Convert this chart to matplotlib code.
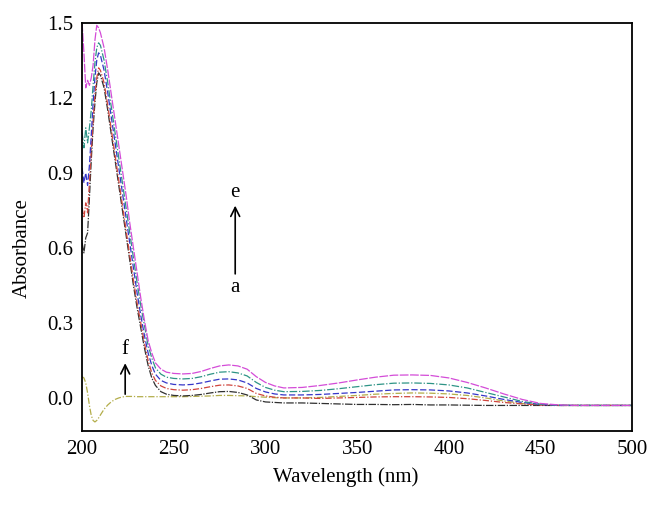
import numpy as np
import matplotlib
matplotlib.use("Agg")
import matplotlib.pyplot as plt

plt.rcParams['font.family'] = ['Liberation Serif', 'DejaVu Serif']

# wavelength grid (nm)
wl = [200, 201, 202, 203, 204, 205, 206, 207, 208, 209, 210, 212, 214, 216, 218,
      220, 222, 224, 226, 228, 230, 232, 234, 236, 238, 240, 243, 246, 250, 255,
      260, 265, 270, 275, 280, 285, 290, 295, 300, 305, 310, 320, 330, 340, 350,
      360, 370, 380, 390, 400, 410, 420, 430, 440, 450, 460, 470, 480, 490, 500]

# absorbance, curves a..e and f
absA = [0.62, 0.58, 0.64, 0.66, 0.80, 0.95, 1.08, 1.18, 1.26, 1.30, 1.29, 1.24, 1.15, 1.05, 0.95,
        0.85, 0.75, 0.65, 0.55, 0.45, 0.36, 0.28, 0.20, 0.13, 0.08, 0.05, 0.025, 0.015, 0.010, 0.008,
        0.010, 0.014, 0.020, 0.025, 0.026, 0.022, 0.012, -0.008, -0.016, -0.018, -0.020, -0.020, -0.022, -0.024, -0.026,
        -0.026, -0.027, -0.026, -0.028, -0.028, -0.029, -0.030, -0.030, -0.030, -0.030, -0.030, -0.030, -0.030, -0.030, -0.030]
absB = [0.76, 0.72, 0.78, 0.74, 0.86, 0.99, 1.11, 1.21, 1.28, 1.32, 1.31, 1.26, 1.17, 1.07, 0.97,
        0.87, 0.77, 0.67, 0.57, 0.47, 0.38, 0.30, 0.22, 0.15, 0.10, 0.07, 0.048, 0.038, 0.033, 0.031,
        0.033, 0.038, 0.045, 0.051, 0.052, 0.048, 0.038, 0.018, 0.008, 0.003, 0.000, 0.000, -0.002, 0.000, 0.002,
        0.004, 0.005, 0.005, 0.004, 0.002, -0.003, -0.010, -0.018, -0.024, -0.028, -0.030, -0.030, -0.030, -0.030, -0.030]
absC = [0.92, 0.86, 0.90, 0.85, 0.93, 1.05, 1.18, 1.28, 1.35, 1.38, 1.37, 1.31, 1.22, 1.12, 1.02,
        0.92, 0.82, 0.72, 0.62, 0.52, 0.42, 0.33, 0.25, 0.18, 0.13, 0.095, 0.070, 0.060, 0.054, 0.052,
        0.054, 0.060, 0.068, 0.075, 0.076, 0.072, 0.060, 0.038, 0.024, 0.016, 0.012, 0.012, 0.014, 0.018, 0.022,
        0.027, 0.032, 0.033, 0.032, 0.028, 0.020, 0.008, -0.006, -0.018, -0.026, -0.030, -0.030, -0.030, -0.030, -0.030]
absD = [1.06, 1.00, 1.08, 1.02, 1.08, 1.15, 1.25, 1.34, 1.40, 1.42, 1.41, 1.35, 1.26, 1.16, 1.06,
        0.96, 0.86, 0.76, 0.66, 0.56, 0.46, 0.37, 0.29, 0.21, 0.16, 0.12, 0.095, 0.083, 0.078, 0.076,
        0.078, 0.085, 0.095, 0.103, 0.105, 0.100, 0.088, 0.062, 0.042, 0.031, 0.025, 0.026, 0.030, 0.037, 0.045,
        0.053, 0.059, 0.060, 0.058, 0.052, 0.040, 0.022, 0.004, -0.014, -0.025, -0.029, -0.030, -0.030, -0.030, -0.030]
absE = [1.50, 1.38, 1.24, 1.27, 1.25, 1.28, 1.33, 1.43, 1.49, 1.48, 1.46, 1.40, 1.31, 1.21, 1.11,
        1.01, 0.91, 0.81, 0.70, 0.60, 0.50, 0.40, 0.31, 0.23, 0.18, 0.14, 0.115, 0.103, 0.098, 0.096,
        0.098, 0.106, 0.118, 0.128, 0.132, 0.128, 0.115, 0.085, 0.062, 0.048, 0.040, 0.042, 0.050, 0.060, 0.072,
        0.083, 0.091, 0.092, 0.090, 0.080, 0.062, 0.040, 0.016, -0.006, -0.022, -0.028, -0.030, -0.030, -0.030, -0.030]
absF = [0.085, 0.080, 0.060, 0.020, -0.030, -0.070, -0.090, -0.096, -0.090, -0.080, -0.068, -0.045, -0.028, -0.015, -0.006,
        0.000, 0.004, 0.006, 0.006, 0.006, 0.005, 0.005, 0.005, 0.005, 0.005, 0.005, 0.005, 0.005, 0.005, 0.005,
        0.006, 0.007, 0.008, 0.010, 0.010, 0.009, 0.008, 0.005, 0.003, 0.001, 0.000, 0.000, 0.002, 0.006, 0.010,
        0.015, 0.018, 0.020, 0.019, 0.016, 0.010, 0.000, -0.012, -0.022, -0.028, -0.030, -0.030, -0.030, -0.030, -0.030]

fig = plt.figure(figsize=(6.62, 5.07), dpi=100)
ax = fig.add_axes([0.124, 0.15, 0.831, 0.805])

ax.plot(wl, absF, color='#b3ad4a', lw=0.9, dashes=(5, 1.5, 1, 1.5))
ax.plot(wl, absA, color='#303030', lw=0.9, dashes=(6, 1.2, 1, 1.2))
ax.plot(wl, absB, color='#d0443c', lw=0.9, dashes=(5, 1.5, 1, 1.5))
ax.plot(wl, absC, color='#3636c8', lw=0.9, dashes=(5, 2))
ax.plot(wl, absD, color='#2e9486', lw=0.9, dashes=(6, 1.5, 1, 1.5))
ax.plot(wl, absE, color='#d44cd8', lw=0.9, dashes=(7, 1.2))

# arrows with labels
ax.annotate('', xy=(283.5, 0.78), xytext=(283.5, 0.485),
            arrowprops=dict(arrowstyle='->', color='black', lw=1.2, mutation_scale=16))
ax.text(283.5, 0.82, 'e', ha='center', va='center', fontsize=15)
ax.text(283.5, 0.44, 'a', ha='center', va='center', fontsize=15)
ax.annotate('', xy=(223.5, 0.15), xytext=(223.5, 0.004),
            arrowprops=dict(arrowstyle='->', color='black', lw=1.2, mutation_scale=16))
ax.text(223.5, 0.195, 'f', ha='center', va='center', fontsize=15)

ax.set_xlim(200, 500)
ax.set_ylim(-0.132, 1.5)
ax.set_xticks([200, 250, 300, 350, 400, 450, 500])
ax.set_yticks([0.0, 0.3, 0.6, 0.9, 1.2, 1.5])
ax.set_yticklabels(['0.0', '0.3', '0.6', '0.9', '1.2', '1.5'])
ax.tick_params(length=0, labelsize=15, pad=6.5)

for s in ax.spines.values():
    s.set_linewidth(1.3)

ax.set_xlabel('Wavelength (nm)', fontsize=15)
ax.set_ylabel('Absorbance', fontsize=15)
ax.xaxis.set_label_coords(0.48, -0.088)
ax.yaxis.set_label_coords(-0.092, 0.449)

fig.savefig('out.png', dpi=100)
